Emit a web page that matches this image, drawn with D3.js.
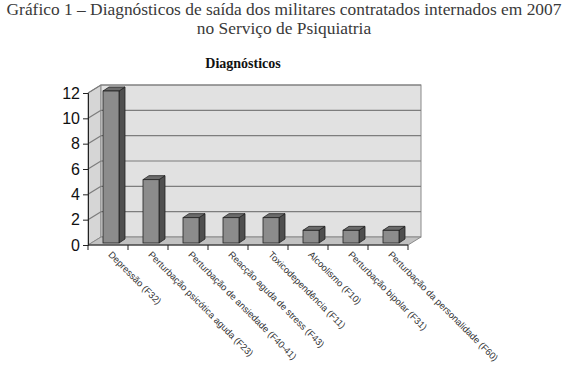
<!DOCTYPE html>
<html>
<head>
<meta charset="utf-8">
<script src="https://cdn.jsdelivr.net/npm/d3@7"></script>
<style>
  body { margin: 0; background: #fff; }
  svg text { font-family: "Liberation Sans", Arial, sans-serif; }
  .title { font-family: "Liberation Serif", "Times New Roman", serif; fill: #3a3a3a; }
  .subtitle { font-family: "Liberation Serif", "Times New Roman", serif; font-weight: bold; fill: #111; }
</style>
</head>
<body>
<svg id="chart" width="568" height="367"></svg>
<script>
// data
const categories = [
  "Depressão (F32)",
  "Perturbação psicótica aguda (F23)",
  "Perturbação de ansiedade (F40-41)",
  "Reacção aguda de stress (F43)",
  "Toxicodependência (F11)",
  "Alcoolismo (F10)",
  "Perturbação bipolar (F31)",
  "Perturbação da personalidade (F60)"
];
const values = [12, 5, 2, 2, 2, 1, 1, 1];
const yTicks = [0, 2, 4, 6, 8, 10, 12];

const svg = d3.select("#chart");

// plot frame
const plotL = 88, plotR = 408, plotB = 245, plotT = 93;
const depth = {dx: 13, dy: -8};     // wall depth
const barDepth = {dx: 6, dy: -4};   // bar depth
const barShift = {dx: 3, dy: -2};   // bar sits inside the depth

const xScale = d3.scaleBand().domain(categories).range([plotL, plotR]);
const yScale = d3.scaleLinear().domain([0, 12]).range([plotB, plotT]);

// titles
svg.append("text").attr("class", "title")
  .attr("x", 284).attr("y", 15).attr("text-anchor", "middle")
  .style("font-size", "17.4px")
  .text("Gráfico 1 – Diagnósticos de saída dos militares contratados internados em 2007");
svg.append("text").attr("class", "title")
  .attr("x", 284).attr("y", 34).attr("text-anchor", "middle")
  .style("font-size", "17.4px")
  .text("no Serviço de Psiquiatria");
svg.append("text").attr("class", "subtitle")
  .attr("x", 243).attr("y", 68).attr("text-anchor", "middle")
  .style("font-size", "14px")
  .text("Diagnósticos");

const g = svg.append("g");
const pts = a => a.map(p => p.join(",")).join(" ");

// left wall
g.append("polygon")
  .attr("points", pts([[plotL, plotB], [plotL + depth.dx, plotB + depth.dy],
                       [plotL + depth.dx, plotT + depth.dy], [plotL, plotT]]))
  .attr("fill", "#d6d6d6").attr("stroke", "#8a8a8a").attr("stroke-width", 1);

// back wall
g.append("rect")
  .attr("x", plotL + depth.dx).attr("y", plotT + depth.dy)
  .attr("width", plotR - plotL).attr("height", plotB - plotT)
  .attr("fill", "#e1e1e1").attr("stroke", "#8a8a8a").attr("stroke-width", 1);

// floor
g.append("polygon")
  .attr("points", pts([[plotL, plotB], [plotR, plotB],
                       [plotR + depth.dx, plotB + depth.dy], [plotL + depth.dx, plotB + depth.dy]]))
  .attr("fill", "#c2c2c2").attr("stroke", "#8a8a8a").attr("stroke-width", 1);

// gridlines
yTicks.filter(d => d > 0).forEach(v => {
  const y = yScale(v);
  g.append("line")
    .attr("x1", plotL + depth.dx).attr("x2", plotR + depth.dx)
    .attr("y1", y + depth.dy).attr("y2", y + depth.dy)
    .attr("stroke", "#7d7d7d").attr("stroke-width", 1.2);
  g.append("line")
    .attr("x1", plotL).attr("x2", plotL + depth.dx)
    .attr("y1", y).attr("y2", y + depth.dy)
    .attr("stroke", "#7d7d7d").attr("stroke-width", 1.2);
});

// bars
const bw = xScale.bandwidth() * 0.4;
const bars = g.selectAll(".bar").data(values).enter().append("g").attr("class", "bar");
bars.each(function(v, i) {
  const b = d3.select(this);
  const x0 = xScale(categories[i]) + xScale.bandwidth() * 0.3 + barShift.dx;
  const x1 = x0 + bw;
  const y0 = yScale(0) + barShift.dy;
  const y1 = yScale(v) + barShift.dy;
  // side
  b.append("polygon")
    .attr("points", pts([[x1, y0], [x1 + barDepth.dx, y0 + barDepth.dy],
                         [x1 + barDepth.dx, y1 + barDepth.dy], [x1, y1]]))
    .attr("fill", "#4f4f4f").attr("stroke", "#222").attr("stroke-width", 0.8);
  // top
  b.append("polygon")
    .attr("points", pts([[x0, y1], [x1, y1], [x1 + barDepth.dx, y1 + barDepth.dy],
                         [x0 + barDepth.dx, y1 + barDepth.dy]]))
    .attr("fill", "#6b6b6b").attr("stroke", "#222").attr("stroke-width", 0.8);
  // front
  b.append("rect")
    .attr("x", x0).attr("y", y1).attr("width", bw).attr("height", y0 - y1)
    .attr("fill", "#8c8c8c").attr("stroke", "#222").attr("stroke-width", 0.8);
});

// y axis
const yAxisG = svg.append("g")
  .attr("transform", `translate(${plotL},0)`)
  .call(d3.axisLeft(yScale).tickValues(yTicks).tickSize(5).tickPadding(3));
yAxisG.select(".domain").attr("stroke", "#222");
yAxisG.selectAll(".tick line").attr("stroke", "#222");
yAxisG.selectAll(".tick text")
  .style("font-size", "16px").style("font-family", "Liberation Sans, Arial, sans-serif")
  .attr("fill", "#111");

// x axis
const xAxisG = svg.append("g").attr("transform", `translate(0,${plotB})`);
xAxisG.append("line").attr("x1", plotL).attr("x2", plotR).attr("stroke", "#222");
xAxisG.selectAll(".xt").data(categories.concat(["__end"])).enter().append("line")
  .attr("x1", (d, i) => plotL + i * xScale.bandwidth())
  .attr("x2", (d, i) => plotL + i * xScale.bandwidth())
  .attr("y1", 0).attr("y2", 5).attr("stroke", "#222");

xAxisG.selectAll(".xlabel").data(categories).enter().append("text")
  .attr("class", "xlabel")
  .attr("transform", d => `translate(${xScale(d) + xScale.bandwidth() / 2 + 2},${8}) rotate(45)`)
  .attr("text-anchor", "start")
  .attr("dy", "0.35em")
  .style("font-size", "9.4px")
  .attr("fill", "#333")
  .text(d => d);
</script>
</body>
</html>
